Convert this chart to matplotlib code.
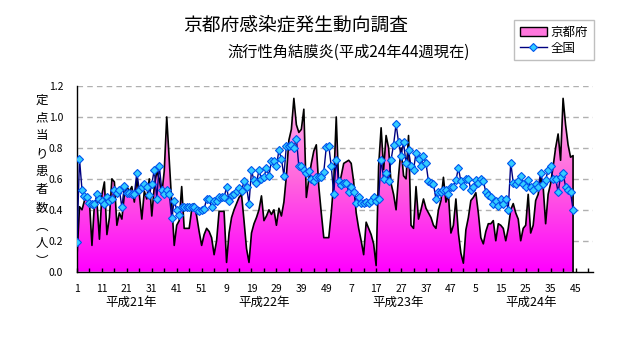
import numpy as np
import matplotlib
matplotlib.use('Agg')
import matplotlib.pyplot as plt
from matplotlib.colors import LinearSegmentedColormap
from matplotlib.patches import Patch
from matplotlib.lines import Line2D

plt.rcParams['font.family'] = ['Noto Sans CJK JP', 'DejaVu Sans']

# 京都府 定点当り患者数 (平成21年1週～平成24年44週)
kyoto = [
    0.10, 0.42, 0.40, 0.46, 0.48, 0.45, 0.17, 0.44, 0.45, 0.21,
    0.50, 0.58, 0.24, 0.35, 0.60, 0.58, 0.30, 0.38, 0.34, 0.50,
    0.55, 0.52, 0.55, 0.45, 0.60, 0.50, 0.34, 0.52, 0.47, 0.60,
    0.36, 0.55, 0.65, 0.60, 0.50, 0.65, 1.00, 0.72, 0.45, 0.17,
    0.30, 0.33, 0.55, 0.28, 0.28, 0.28, 0.40, 0.44, 0.36, 0.26,
    0.17, 0.24, 0.28, 0.26, 0.22, 0.11, 0.20, 0.39, 0.39, 0.39,
    0.06, 0.25, 0.35, 0.40, 0.44, 0.48, 0.50, 0.33, 0.15, 0.06,
    0.25, 0.31, 0.35, 0.40, 0.49, 0.33, 0.36, 0.40, 0.37, 0.40,
    0.30, 0.41, 0.36, 0.45, 0.62, 0.85, 0.92, 1.12, 0.95, 0.90,
    0.92, 1.05, 0.48, 0.60, 0.70, 0.78, 0.82, 0.55, 0.38, 0.22,
    0.22, 0.22, 0.38, 0.58, 1.00, 0.55, 0.62, 0.70, 0.71, 0.72,
    0.70, 0.58, 0.38, 0.28, 0.20, 0.11, 0.32, 0.28, 0.24, 0.18,
    0.04, 0.68, 0.93, 0.66, 0.88, 0.80, 0.57, 0.50, 0.40, 0.62,
    0.80, 0.62, 0.60, 0.88, 0.30, 0.28, 0.55, 0.34, 0.40, 0.47,
    0.41, 0.38, 0.35, 0.30, 0.28, 0.40, 0.46, 0.61, 0.45, 0.50,
    0.25, 0.30, 0.47, 0.25, 0.12, 0.055, 0.27, 0.35, 0.46, 0.48,
    0.51, 0.38, 0.22, 0.18, 0.26, 0.31, 0.31, 0.33, 0.20, 0.31,
    0.30, 0.28, 0.20, 0.28, 0.40, 0.44, 0.38, 0.34, 0.20, 0.28,
    0.30, 0.50, 0.25, 0.30, 0.46, 0.50, 0.61, 0.55, 0.31, 0.50,
    0.57, 0.68, 0.80, 0.89, 0.72, 1.12, 0.95, 0.82, 0.74, 0.75,
]

# 全国
zenkoku = [
    0.19, 0.73, 0.53, 0.49, 0.48, 0.445, 0.437, 0.437, 0.50, 0.47,
    0.46, 0.437, 0.48, 0.46, 0.47, 0.53, 0.51, 0.53, 0.415, 0.555,
    0.51, 0.51, 0.50, 0.50, 0.64, 0.53, 0.55, 0.565, 0.545, 0.495,
    0.565, 0.66, 0.47, 0.685, 0.53, 0.50, 0.53, 0.50, 0.345, 0.46,
    0.40, 0.365, 0.415, 0.415, 0.415, 0.415, 0.415, 0.415, 0.40, 0.39,
    0.40, 0.405, 0.47, 0.47, 0.415, 0.46, 0.46, 0.48, 0.48, 0.48,
    0.545, 0.46, 0.495, 0.505, 0.52, 0.54, 0.52, 0.585, 0.55, 0.44,
    0.655, 0.59, 0.575, 0.655, 0.60, 0.61, 0.67, 0.62, 0.715, 0.715,
    0.68, 0.785, 0.73, 0.62, 0.815, 0.815, 0.82, 0.80, 0.86, 0.68,
    0.68, 0.66, 0.635, 0.65, 0.60, 0.585, 0.615, 0.615, 0.615, 0.645,
    0.805, 0.815, 0.68, 0.50, 0.725, 0.585, 0.56, 0.57, 0.575, 0.515,
    0.545, 0.515, 0.445, 0.485, 0.445, 0.445, 0.45, 0.445, 0.46, 0.48,
    0.46, 0.47, 0.725, 0.60, 0.635, 0.585, 0.725, 0.82, 0.955, 0.835,
    0.75, 0.835, 0.70, 0.785, 0.68, 0.655, 0.77, 0.73, 0.68, 0.75,
    0.70, 0.585, 0.575, 0.565, 0.47, 0.515, 0.515, 0.53, 0.53, 0.50,
    0.545, 0.55, 0.59, 0.67, 0.585, 0.555, 0.60, 0.60, 0.53, 0.55,
    0.59, 0.57, 0.60, 0.585, 0.515, 0.495, 0.48, 0.437, 0.46, 0.425,
    0.47, 0.44, 0.47, 0.40, 0.705, 0.575, 0.565, 0.585, 0.62, 0.565,
    0.545, 0.59, 0.545, 0.525, 0.565, 0.545, 0.64, 0.565, 0.59, 0.66,
    0.68, 0.60, 0.60, 0.515, 0.615, 0.635, 0.55, 0.53, 0.515, 0.40,
]

xtick_labels = ['1', '11', '21', '31', '41', '51',
                '9', '19', '29', '39', '49',
                '7', '17', '27', '37', '47',
                '5', '15', '25', '35', '45']
year_labels = ['平成21年', '平成22年', '平成23年', '平成24年']

n = len(kyoto)
idx = np.arange(n)

fig = plt.figure(figsize=(6.32, 3.48), dpi=100)
ax = fig.add_axes([77 / 632, (348 - 271.7) / 348, (593 - 77) / 632, (271.7 - 86) / 348])

# gridlines
for v in np.arange(0.2, 1.21, 0.2):
    ax.axhline(v, color='#b0b0b0', lw=1, ls=(0, (4, 3)), zorder=0)

# 京都府: gradient area
xs = np.concatenate([[0], idx, [n - 1]])
ys = np.concatenate([[0], kyoto, [0]])
poly = ax.fill(xs, ys, facecolor='none', edgecolor='none', zorder=1)[0]
cmap = LinearSegmentedColormap.from_list('pk', ['#ff00ff', '#ff66dd', '#ffbbee'])
grad = np.linspace(0, 1, 256).reshape(-1, 1)
im = ax.imshow(grad, extent=[0, 207, 0, 1.2], origin='lower', cmap=cmap,
               aspect='auto', zorder=1)
im.set_clip_path(poly)
ax.plot(xs, ys, color='black', lw=1.2, zorder=2)

# 全国
ax.plot(idx, zenkoku, color='#000080', lw=1, marker='D', ms=4.2,
        mfc='#33ccff', mec='#0055ee', mew=0.8, zorder=3)

ax.set_xlim(0, 207)
ax.set_ylim(0, 1.2)
ax.spines['top'].set_visible(False)
ax.spines['right'].set_visible(False)
ax.spines['left'].set_linewidth(1)
ax.spines['bottom'].set_linewidth(1)

ax.set_xticks(np.arange(0, 207, 5), minor=True)
ax.set_xticks(np.arange(0, 207, 10))
ax.set_xticklabels(xtick_labels, fontsize=7.5)
ax.tick_params(axis='x', which='both', direction='in', length=3, pad=9, width=1)
ax.set_yticks(np.arange(0, 1.21, 0.2))
ax.set_yticklabels(['%.1f' % v for v in np.arange(0, 1.21, 0.2)], fontsize=7.5)
ax.tick_params(axis='y', length=0, pad=10)

for k, lab in enumerate(year_labels):
    ax.text(21.5 + 53.6 * k, -0.2, lab, ha='center', va='center', fontsize=9,
            transform=ax.transData, clip_on=False)

fig.text(0.066, 0.48, '\n'.join('定点当り患者数︵人︶'), ha='center', va='center',
         fontsize=9, linespacing=1.5)

fig.text(296 / 632, 1 - 25 / 348, '京都府感染症発生動向調査', ha='center', va='center',
         fontsize=13.5)
fig.text(349 / 632, 1 - 52 / 348, '流行性角結膜炎(平成24年44週現在)', ha='center',
         va='center', fontsize=11)

handles = [Patch(facecolor='#ff77dd', edgecolor='black', lw=1),
           Line2D([], [], color='#000080', lw=1, marker='D', ms=4.2,
                  mfc='#33ccff', mec='#0055ee', mew=0.8)]
leg = fig.legend(handles, ['京都府', '全国'], loc='upper left',
                 bbox_to_anchor=(514 / 632, 1 - 20 / 348), fontsize=9,
                 frameon=True, fancybox=False, handlelength=2.2, handleheight=0.7,
                 handletextpad=0.3, borderpad=0.45, labelspacing=0.25,
                 borderaxespad=0)
leg.get_frame().set_edgecolor('#b0b0b0')
leg.get_frame().set_linewidth(1)

fig.savefig('out.png', dpi=100)
